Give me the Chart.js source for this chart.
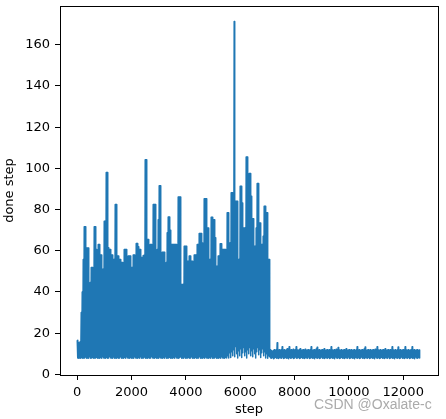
<!DOCTYPE html>
<html><head><meta charset="utf-8">
<script src="https://cdn.jsdelivr.net/npm/chart.js@4.4.0/dist/chart.umd.min.js"></script>
<style>html,body{margin:0;padding:0;background:#fff;} canvas{display:block;}</style>
</head><body>
<canvas id="c" width="446" height="419"></canvas>
<script>
// tick labels
const xTicks = [0, 2000, 4000, 6000, 8000, 10000, 12000];
const yTicks = [0, 20, 40, 60, 80, 100, 120, 140, 160];
// steps covered by one sampled column of the picture
const colStep = 36.8;
// per-column peak / trough values of "done step" (steps 0 .. ~7100)
const denseHigh = [
 16.6, 15.5, 14.5, 16, 30, 40, 55.7, 71.6, 71.6, 61.4,
 61.4, 61.4, 40, 44.6, 51.9, 51.9, 46, 71.6, 71.6, 60.6,
 31.5, 63, 63, 58, 58, 51, 51, 74.3, 74.3, 98,
 98, 61.5, 60.6, 60.6, 58, 58, 55.7, 55.7, 82.4, 82.4,
 57.4, 57.4, 55.7, 55.7, 54.3, 54.3, 50, 60.6, 60.6, 60.6,
 56.7, 57.4, 57.4, 57.4, 51.9, 51.9, 58, 58, 48, 63.5,
 63.5, 62, 60.6, 60.6, 56.7, 56.7, 57.7, 57.7, 104.2, 104.2,
 65.5, 65.5, 59, 63, 63, 45, 82.4, 82.4, 82.4, 57.4,
 60.6, 75, 91.6, 91.6, 44.6, 59.3, 59.3, 59.3, 50, 54.3,
 68.8, 76.4, 76.4, 70, 63, 63, 63, 63, 63, 63,
 46, 86.1, 86.1, 86.1, 43.6, 43.6, 43.6, 62.2, 62.2, 62.2,
 54.9, 54.9, 57.4, 57.4, 54.9, 54.9, 49.6, 58, 58, 58,
 63, 63, 68.4, 68.4, 68.4, 63.8, 57.4, 85.2, 85.2, 85.2,
 71.1, 71.1, 55.7, 55.7, 76.3, 76.3, 75, 75, 66.3, 52.5,
 52.5, 57.4, 57.4, 63.4, 63.4, 60.6, 60.6, 60.6, 60.6, 47.7,
 78.4, 78.4, 63.8, 63.8, 88.1, 88.1, 83.2, 171.3, 84, 84,
 84, 55.7, 55.7, 91.3, 91.3, 83.2, 71.1, 71.1, 71.1, 105.5,
 105.5, 63.8, 97.5, 97.5, 86.5, 75.5, 75.5, 62.2, 62.2, 71.1,
 92.6, 92.6, 73.5, 73.5, 63, 63, 67, 81.6, 81.6, 78.4,
 78.4, 55.7, 55.7
];
const denseLow = [
 8, 7.8, 8, 7.8, 8.2, 7.8, 8, 7.9, 8.4, 7.8,
 8, 7.8, 8.6, 7.8, 8, 8.2, 7.8, 8, 7.9, 8.3,
 7.8, 8, 7.8, 8.2, 7.8, 8.6, 7.9, 8, 7.8, 8.3,
 7.8, 8, 8.7, 7.9, 8, 7.8, 8.4, 7.8, 8, 7.8,
 8.2, 7.8, 8, 8.5, 7.8, 8, 7.8, 8.3, 7.8, 8.6,
 7.9, 8, 7.8, 8.2, 7.8, 8, 7.8, 8.5, 7.9, 8,
 7.8, 8.2, 7.8, 8.6, 7.8, 8, 7.9, 8.4, 7.8, 8,
 7.8, 8.2, 7.8, 8, 8.7, 7.9, 8, 7.8, 8.3, 7.8,
 8, 7.8, 8.4, 7.9, 8, 7.8, 8.2, 7.8, 8.6, 7.8,
 8, 7.9, 8.3, 7.8, 8, 7.8, 8.2, 7.8, 8.5, 7.9,
 8, 7.8, 8.2, 8.6, 7.8, 8, 7.8, 8.4, 7.8, 8,
 7.9, 8.2, 7.8, 8, 8.5, 7.8, 8, 7.8, 8.3, 7.8,
 8, 7.9, 8.7, 7.8, 8, 7.8, 8.2, 7.8, 8.4, 7.9,
 8, 7.8, 8.2, 7.8, 8.6, 7.8, 8, 7.9, 8.4, 7.8,
 8, 7.8, 8.2, 7.8, 8.6, 7.9, 8, 7.8, 8.3, 8,
 9, 8, 10.5, 8.2, 11, 9, 12, 8.5, 13.5, 10,
 8, 11.5, 9, 12.5, 8.2, 10.5, 13, 9, 11, 8,
 12, 10, 13, 9, 11.5, 8.5, 12.5, 10, 8, 11,
 13, 9.5, 12, 8.2, 10.5, 12.5, 9, 11, 8, 10,
 7.8, 9, 8.5
];
// per-column peak / trough values after the drop (steps ~7100 .. ~12620)
const tailHigh = [
 12, 11.5, 11, 11.5, 12, 11.5, 12, 15.4, 11.5, 12,
 11.5, 12, 13.4, 11.5, 12, 11, 11.8, 12.5, 11.5, 13.4,
 11.5, 12, 11.5, 12.2, 11.5, 12, 13.4, 11.8, 11.5, 12,
 12.5, 11.5, 11.8, 12, 11.5, 12.2, 11.5, 11.8, 12, 11.5,
 12, 13.4, 11.5, 11.8, 12, 11.5, 12.3, 13.2, 11.5, 12,
 11.5, 11.8, 12, 11.5, 12.5, 11.5, 11.8, 12, 11.5, 12,
 11.5, 13.4, 11.8, 11.5, 12, 11.5, 12.2, 11.5, 13, 11.8,
 11.5, 12, 11.5, 11.8, 12, 11.5, 12.4, 11.5, 11.8, 12,
 11.5, 12, 11.5, 11.8, 12, 11.5, 11.8, 13.4, 11.5, 12,
 11.5, 11.8, 12, 11.5, 12.3, 13.3, 11.5, 11.8, 12, 11.5,
 12, 11.5, 11.8, 12, 11.5, 12.2, 11.5, 13.4, 11.8, 11.5,
 12, 11.5, 11.8, 12, 11.5, 12.5, 11.5, 11.8, 12, 11.5,
 12, 11.5, 13.4, 11.8, 11.5, 12, 11.5, 11.8, 13.3, 11.5,
 12, 11.5, 11.8, 12, 11.5, 13.4, 11.8, 11.5, 12, 11.5,
 11.8, 12, 13.4, 11.5, 12, 11.5, 11.8, 12, 11.5, 11.8
];
const tailLow = [
 8, 7.8, 8.2, 7.6, 8, 8.3, 7.8, 8, 7.7, 8.2,
 8, 7.8, 8.4, 7.7, 8, 8.2, 7.8, 8, 7.6, 8.3,
 7.8, 8, 8.2, 7.7, 8, 8.4, 7.8, 8, 8.2, 7.7,
 8, 8.3, 7.8, 8, 7.7, 8.2, 8, 7.8, 8.4, 7.7,
 8, 8.2, 7.8, 8, 7.6, 8.3, 8, 7.8, 8.2, 7.7,
 8, 8.4, 7.8, 8, 7.7, 8.2, 8, 7.8, 8.3, 7.7,
 8, 8.2, 7.8, 8, 7.6, 8.4, 8, 7.8, 8.2, 7.7,
 8, 8.3, 7.8, 8, 7.7, 8.2, 8, 7.8, 8.4, 7.7,
 8, 8.2, 7.8, 8, 7.6, 8.3, 8, 7.8, 8.2, 7.7,
 8, 8.4, 7.8, 8, 7.7, 8.2, 8, 7.8, 8.3, 7.7,
 8, 8.2, 7.8, 8, 7.6, 8.4, 8, 7.8, 8.2, 7.7,
 8, 8.3, 7.8, 8, 7.7, 8.2, 8, 7.8, 8.4, 7.7,
 8, 8.2, 7.8, 8, 7.6, 8.3, 8, 7.8, 8.2, 7.7,
 8, 8.4, 7.8, 8, 7.7, 8.2, 8, 7.8, 8.3, 7.7,
 8, 8.2, 7.8, 8, 7.6, 8.4, 8, 7.8, 8.2, 8
];

const highs = denseHigh.concat(tailHigh);
const lows = denseLow.concat(tailLow);
const points = [];
for (let c = 0; c < highs.length; c++) {
  points.push({x: c * colStep, y: highs[c]});
  points.push({x: c * colStep + colStep / 2, y: lows[c]});
}

const FONT = 'DejaVu Sans';
const framePlugin = {
  id: 'frame',
  afterDatasetsDraw(chart) {
    const {ctx, chartArea: a} = chart;
    ctx.save();
    ctx.strokeStyle = '#000';
    ctx.lineWidth = 1;
    const x0 = Math.floor(a.left) + 0.5, y0 = Math.floor(a.top) + 0.5;
    const x1 = Math.floor(a.right) + 0.5, y1 = Math.floor(a.bottom) + 0.5;
    ctx.strokeRect(x0, y0, x1 - x0, y1 - y0);
    ctx.restore();
  },
  afterDraw(chart) {
    const ctx = chart.ctx;
    ctx.save();
    ctx.font = '14px "Liberation Sans", Arial, sans-serif';
    ctx.fillStyle = '#ababab';
    ctx.textBaseline = 'alphabetic';
    ctx.textAlign = 'left';
    ctx.fillText('CSDN @Oxalate-c', 314, 409);
    ctx.restore();
  }
};

new Chart(document.getElementById('c'), {
  type: 'line',
  data: {
    datasets: [{
      data: points,
      borderColor: '#1f77b4',
      borderWidth: 1.5,
      pointRadius: 0,
      fill: false,
      tension: 0,
      borderJoinStyle: 'round'
    }]
  },
  options: {
    responsive: false,
    animation: false,
    events: [],
    devicePixelRatio: 1,
    layout: {padding: {left: 0, right: 8, top: 6, bottom: 0}},
    plugins: {legend: {display: false}, tooltip: {enabled: false}},
    scales: {
      x: {
        type: 'linear',
        min: -635,
        max: 13280,
        afterBuildTicks: s => { s.ticks = xTicks.map(v => ({value: v})); },
        afterFit: s => { s.height = 44; s.paddingLeft = 0; s.paddingRight = 0; },
        grid: {display: true, drawOnChartArea: false, drawTicks: true, tickLength: 5, tickColor: '#000', tickWidth: 1},
        border: {display: false},
        ticks: {color: '#000', font: {family: FONT, size: 13}, padding: 5, maxRotation: 0, autoSkip: false, callback: v => String(v)},
        title: {display: true, text: 'step', color: '#000', font: {family: FONT, size: 13}, padding: {top: 0, bottom: 2}}
      },
      y: {
        type: 'linear',
        min: -0.3,
        max: 178.8,
        afterBuildTicks: s => { s.ticks = yTicks.map(v => ({value: v})); },
        afterFit: s => { s.width = 60; s.paddingTop = 0; s.paddingBottom = 0; },
        grid: {display: true, drawOnChartArea: false, drawTicks: true, tickLength: 5, tickColor: '#000', tickWidth: 1},
        border: {display: false},
        ticks: {color: '#000', font: {family: FONT, size: 13}, padding: 5, autoSkip: false, callback: v => String(v)},
        title: {display: true, text: 'done step', color: '#000', font: {family: FONT, size: 13}, padding: {top: 2, bottom: 0}}
      }
    }
  },
  plugins: [framePlugin]
});
</script>
</body></html>
